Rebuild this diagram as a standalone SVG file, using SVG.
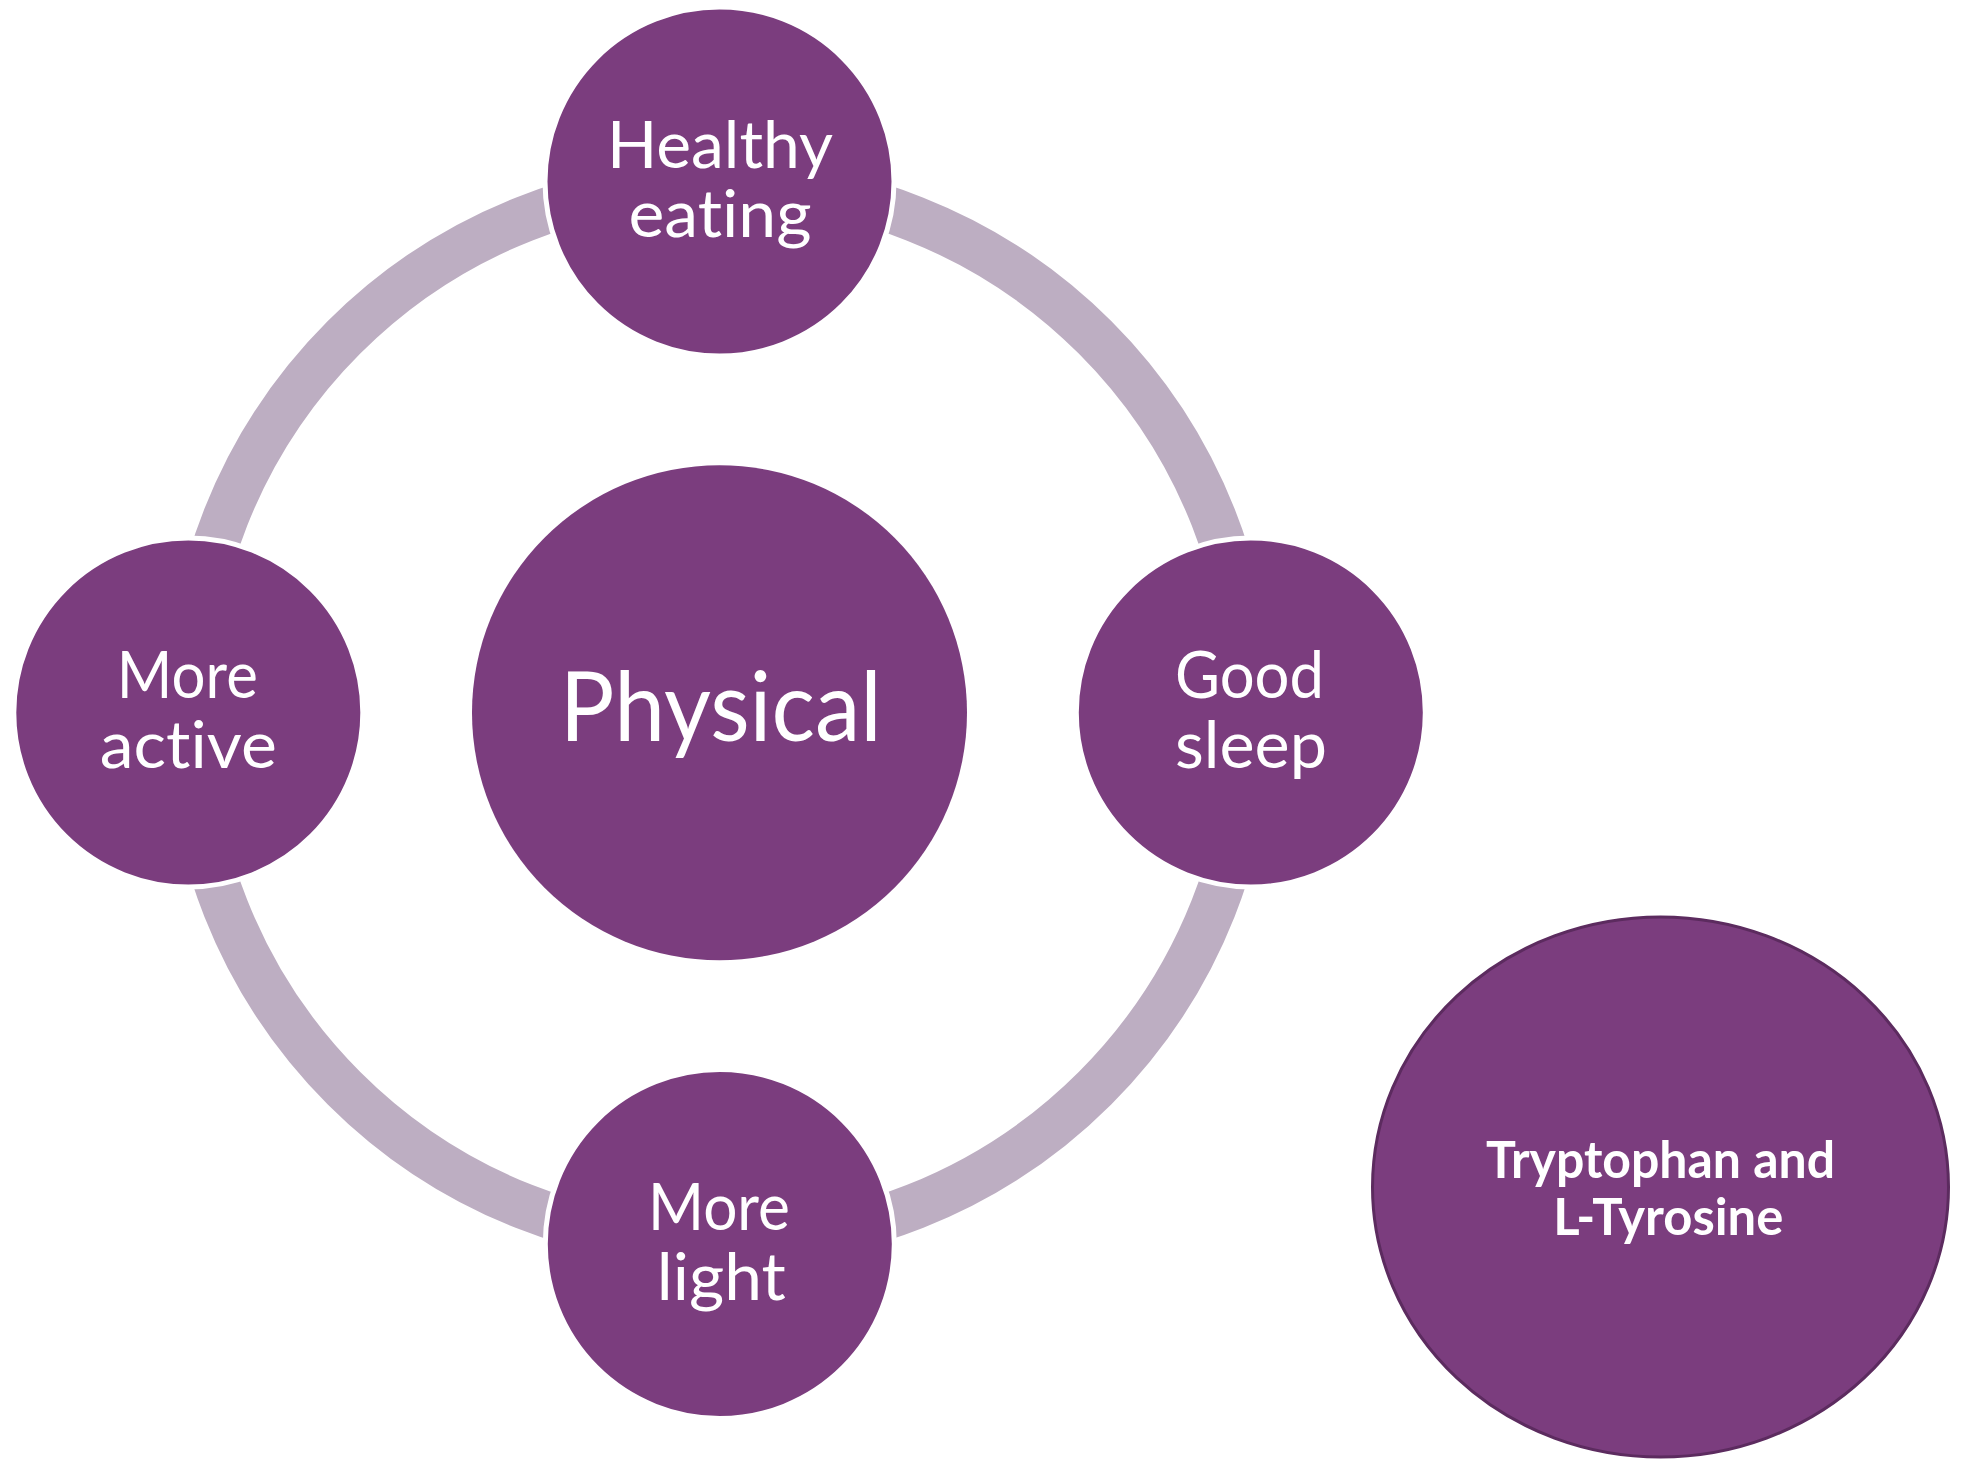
<svg xmlns="http://www.w3.org/2000/svg" width="1967" height="1459" viewBox="0 0 1967 1459">
  <style>
    .node { fill: #7B3D7E; }
    .halo { fill: #7B3D7E; stroke: #FFFFFF; stroke-width: 5; }
    .lbl { font-family: Lato, "Open Sans", "Liberation Sans", sans-serif; fill: #FFFFFF; text-anchor: middle; font-variant-ligatures: none; }
    .sm { font-size: 66px; }
    .big { font-size: 96px; }
    .bold { font-size: 51px; font-weight: bold; }
  </style>
  <rect width="1967" height="1459" fill="#FFFFFF"/>

  <!-- ring joining the four outer nodes -->
  <g id="connectors">
    <circle cx="719.5" cy="712.75" r="531" fill="none" stroke="#BDAEC2" stroke-width="46"/>
  </g>

  <g id="node-physical">
    <circle class="node" cx="719.5" cy="712.75" r="247.5"/>
    <text class="lbl big" x="720.8" y="741" textLength="322" lengthAdjust="spacingAndGlyphs">Physical</text>
  </g>

  <g id="node-healthy-eating">
    <circle class="halo" cx="719.5" cy="181.5" r="174.5"/>
    <text class="lbl sm" x="720" y="167.5" textLength="226" lengthAdjust="spacingAndGlyphs">Healthy</text>
    <text class="lbl sm" x="720" y="236.7" textLength="183" lengthAdjust="spacingAndGlyphs">eating</text>
  </g>

  <g id="node-more-active">
    <circle class="halo" cx="188.3" cy="712.5" r="174.5"/>
    <text class="lbl sm" x="187.3" y="698.3" textLength="141" lengthAdjust="spacingAndGlyphs">More</text>
    <text class="lbl sm" x="188.3" y="768.3" textLength="177" lengthAdjust="spacingAndGlyphs">active</text>
  </g>

  <g id="node-good-sleep">
    <circle class="halo" cx="1250.8" cy="712.5" r="174.5"/>
    <text class="lbl sm" x="1249.5" y="698.3" textLength="149" lengthAdjust="spacingAndGlyphs">Good</text>
    <text class="lbl sm" x="1251" y="768.3" textLength="152" lengthAdjust="spacingAndGlyphs">sleep</text>
  </g>

  <g id="node-more-light">
    <circle class="halo" cx="719.8" cy="1244" r="174.5"/>
    <text class="lbl sm" x="719" y="1230" textLength="142" lengthAdjust="spacingAndGlyphs">More</text>
    <text class="lbl sm" x="721.3" y="1300" textLength="129" lengthAdjust="spacingAndGlyphs">light</text>
  </g>

  <g id="node-amino-acids">
    <ellipse cx="1660.5" cy="1187" rx="288" ry="270" fill="#7B3D7E" stroke="#5C2B5F" stroke-width="3"/>
    <text class="lbl bold" x="1660.5" y="1178.3" textLength="349" lengthAdjust="spacingAndGlyphs">Tryptophan and</text>
    <text class="lbl bold" x="1668.3" y="1235" textLength="230" lengthAdjust="spacingAndGlyphs">L-Tyrosine</text>
  </g>
</svg>
